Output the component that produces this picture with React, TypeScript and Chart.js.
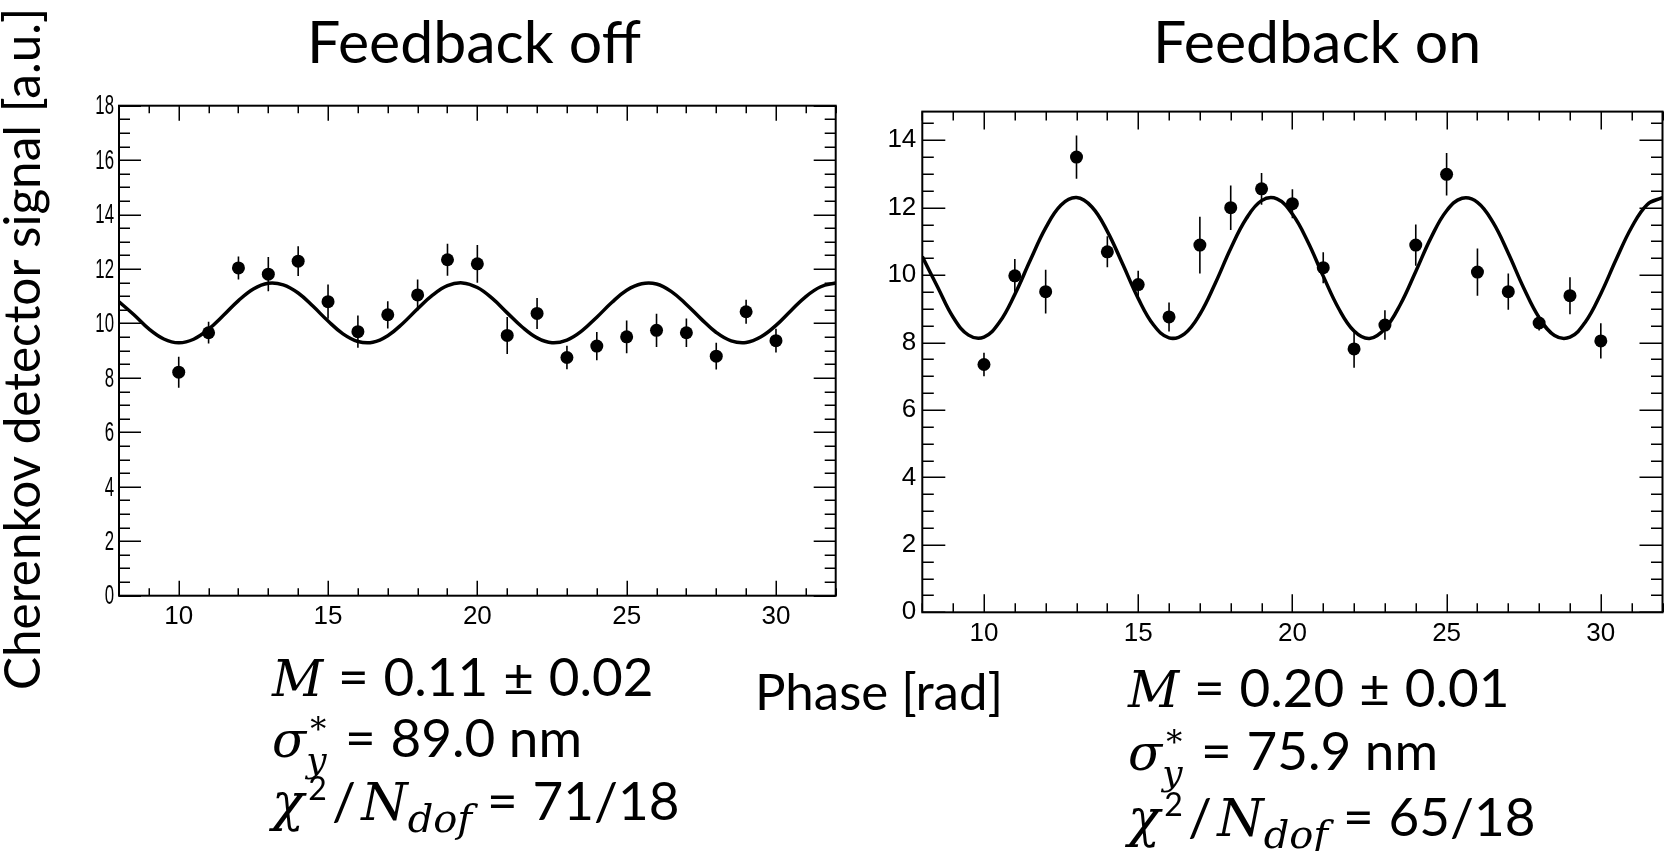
import React, { useEffect, useRef } from "react";
import { Chart, registerables } from "chart.js";

Chart.register(...registerables);

// ---------- data ----------
const phases = [10, 11, 12, 13, 14, 15, 16, 17, 18, 19, 20, 21, 22, 23, 24, 25, 26, 27, 28, 29, 30];

const offSignal = [8.21, 9.66, 12.04, 11.81, 12.29, 10.8, 9.7, 10.32, 11.05, 12.34, 12.19, 9.56, 10.37, 8.75, 9.17, 9.51, 9.75, 9.66, 8.8, 10.43, 9.37];
const offError = [0.57, 0.4, 0.42, 0.63, 0.55, 0.63, 0.59, 0.5, 0.57, 0.59, 0.69, 0.68, 0.57, 0.43, 0.52, 0.6, 0.61, 0.52, 0.49, 0.44, 0.44];

const onSignal = [7.35, 9.98, 9.51, 13.5, 10.69, 9.72, 8.76, 10.89, 12.0, 12.56, 12.12, 10.22, 7.81, 8.52, 10.89, 12.99, 10.09, 9.51, 8.58, 9.39, 8.05];
const onError = [0.35, 0.5, 0.65, 0.64, 0.46, 0.41, 0.43, 0.84, 0.66, 0.47, 0.43, 0.46, 0.56, 0.44, 0.61, 0.63, 0.7, 0.54, 0.22, 0.55, 0.52];

// fit curves
const fitPhase = [8, 8.5, 9, 9.5, 10, 10.5, 11, 11.5, 12, 12.5, 13, 13.5, 14, 14.5, 15, 15.5, 16, 16.5, 17, 17.5, 18, 18.5, 19, 19.5, 20, 20.5, 21, 21.5, 22, 22.5, 23, 23.5, 24, 24.5, 25, 25.5, 26, 26.5, 27, 27.5, 28, 28.5, 29, 29.5, 30, 30.5, 31, 31.5, 32];
const offFit = [10.8, 10.32, 9.8, 9.43, 9.29, 9.42, 9.79, 10.3, 10.84, 11.27, 11.48, 11.42, 11.12, 10.63, 10.09, 9.62, 9.34, 9.31, 9.55, 10.0, 10.54, 11.04, 11.39, 11.49, 11.32, 10.92, 10.39, 9.87, 9.47, 9.29, 9.39, 9.73, 10.23, 10.77, 11.22, 11.46, 11.45, 11.17, 10.7, 10.16, 9.67, 9.36, 9.3, 9.51, 9.93, 10.47, 10.99, 11.35, 11.49];
const onFit = [10.55, 9.64, 8.75, 8.22, 8.16, 8.6, 9.43, 10.44, 11.4, 12.08, 12.3, 12.02, 11.3, 10.32, 9.31, 8.52, 8.14, 8.26, 8.84, 9.76, 10.79, 11.67, 12.21, 12.26, 11.81, 10.99, 9.97, 9.01, 8.34, 8.12, 8.41, 9.13, 10.11, 11.12, 11.91, 12.28, 12.16, 11.57, 10.65, 9.62, 8.74, 8.21, 8.16, 8.61, 9.45, 10.47, 11.42, 12.09, 12.3];

// axes / ticks
const xTickLabels = [10, 15, 20, 25, 30];
const offYTickLabels = [0, 2, 4, 6, 8, 10, 12, 14, 16, 18];
const onYTickLabels = [0, 2, 4, 6, 8, 10, 12, 14];
const xRange = [8, 32];
const offYRange = [0, 18];
const onYRange = [0, 14.85];

const tickFamily = "'Liberation Sans', Arial, sans-serif";

// ---------- plugins ----------
const rootFramePlugin = {
  id: "rootFrame",
  afterDatasetsDraw(chart: any, _args: any, opts: any) {
    const { ctx, chartArea: a, scales } = chart;
    const x = scales.x;
    const y = scales.y;
    ctx.save();
    ctx.strokeStyle = "#000";
    ctx.lineWidth = 1.5;
    ctx.beginPath();
    for (let v = xRange[0]; v <= xRange[1] + 1e-9; v += 1) {
      const px = Math.round(x.getPixelForValue(v)) + 0.25;
      const len = v % 5 === 0 ? opts.xMajor : opts.xMinor;
      ctx.moveTo(px, a.bottom);
      ctx.lineTo(px, a.bottom - len);
      ctx.moveTo(px, a.top);
      ctx.lineTo(px, a.top + len);
    }
    for (let v = 0; v <= y.max + 1e-9; v += 0.5) {
      const py = Math.round(y.getPixelForValue(v)) + 0.25;
      const len = v % 2 === 0 ? opts.yMajor : opts.yMinor;
      ctx.moveTo(a.left, py);
      ctx.lineTo(a.left + len, py);
      ctx.moveTo(a.right, py);
      ctx.lineTo(a.right - len, py);
    }
    ctx.stroke();
    ctx.lineWidth = 2;
    ctx.strokeRect(a.left, a.top, a.right - a.left, a.bottom - a.top);

    // condensed y tick labels (left panel)
    if (opts.condensedLabels) {
      ctx.fillStyle = "#000";
      ctx.font = `${opts.labelSize}px ${tickFamily}`;
      ctx.textAlign = "right";
      ctx.textBaseline = "middle";
      for (const v of opts.condensedLabels as number[]) {
        ctx.save();
        ctx.translate(a.left - opts.labelGap, y.getPixelForValue(v) + 1);
        ctx.scale(opts.labelScaleX, 1);
        ctx.fillText(String(v), 0, 0);
        ctx.restore();
      }
    }
    ctx.restore();
  },
};

const errorBarPlugin = {
  id: "errorBars",
  beforeDatasetsDraw(chart: any, _args: any, opts: any) {
    const { ctx, scales } = chart;
    const x = scales.x;
    const y = scales.y;
    const vals: number[] = opts.values;
    const errs: number[] = opts.errors;
    const xs: number[] = opts.xs;
    ctx.save();
    ctx.strokeStyle = "#000";
    ctx.lineWidth = 1.6;
    ctx.beginPath();
    for (let i = 0; i < vals.length; i++) {
      const px = x.getPixelForValue(xs[i]);
      ctx.moveTo(px, y.getPixelForValue(vals[i] - errs[i]));
      ctx.lineTo(px, y.getPixelForValue(vals[i] + errs[i]));
    }
    ctx.stroke();
    ctx.restore();
  },
};

type PanelCfg = {
  values: number[];
  errors: number[];
  fit: number[];
  yTicks: number[];
  yRange: number[];
  yAxisWidth: number;
  xAxisHeight: number;
  padTop: number;
  padRight: number;
  xPad: number;
  yPad: number;
  condensed: boolean;
  xMajor: number;
  xMinor: number;
  yMajor: number;
  yMinor: number;
};

function Panel(props: { left: number; top: number; width: number; height: number; cfg: PanelCfg }) {
  const ref = useRef<HTMLCanvasElement>(null);
  const { cfg } = props;
  useEffect(() => {
    if (!ref.current) return;
    const chart = new Chart(ref.current, {
      type: "scatter",
      data: {
        datasets: [
          {
            type: "line",
            data: fitPhase.map((p, i) => ({ x: p, y: cfg.fit[i] })),
            borderColor: "#000",
            borderWidth: 3.5,
            pointRadius: 0,
            tension: 0.4,
            fill: false,
          } as any,
          {
            type: "scatter",
            data: phases.map((p, i) => ({ x: p, y: cfg.values[i] })),
            pointRadius: 6.5,
            pointBackgroundColor: "#000",
            pointBorderColor: "#000",
            pointBorderWidth: 0,
            showLine: false,
          } as any,
        ],
      },
      options: {
        responsive: false,
        animation: false,
        devicePixelRatio: 1,
        layout: { padding: { top: cfg.padTop, right: cfg.padRight, left: 0, bottom: 0 } },
        plugins: {
          legend: { display: false },
          tooltip: { enabled: false },
          rootFrame: {
            xMajor: cfg.xMajor,
            xMinor: cfg.xMinor,
            yMajor: cfg.yMajor,
            yMinor: cfg.yMinor,
            condensedLabels: cfg.condensed ? cfg.yTicks : null,
            labelSize: 28,
            labelScaleX: 0.6,
            labelGap: 5,
          },
          errorBars: { values: cfg.values, errors: cfg.errors, xs: phases },
        } as any,
        scales: {
          x: {
            type: "linear",
            min: xRange[0],
            max: xRange[1],
            grid: { display: false, drawTicks: false },
            border: { display: false },
            afterBuildTicks: (s: any) => {
              s.ticks = xTickLabels.map((v) => ({ value: v }));
            },
            afterFit: (s: any) => {
              s.height = cfg.xAxisHeight;
            },
            ticks: { font: { family: tickFamily, size: 26 }, color: "#000", padding: cfg.xPad, maxRotation: 0, autoSkip: false },
          },
          y: {
            type: "linear",
            min: cfg.yRange[0],
            max: cfg.yRange[1],
            grid: { display: false, drawTicks: false },
            border: { display: false },
            afterBuildTicks: (s: any) => {
              s.ticks = cfg.yTicks.map((v) => ({ value: v }));
            },
            afterFit: (s: any) => {
              s.width = cfg.yAxisWidth;
            },
            ticks: {
              display: !cfg.condensed,
              font: { family: tickFamily, size: 26 },
              color: "#000",
              padding: cfg.yPad,
              autoSkip: false,
            },
          },
        },
      } as any,
      plugins: [rootFramePlugin as any, errorBarPlugin as any],
    });
    return () => chart.destroy();
  }, []);
  return (
    <canvas
      ref={ref}
      width={props.width}
      height={props.height}
      style={{ position: "absolute", left: props.left, top: props.top, width: props.width, height: props.height }}
    />
  );
}

const offCfg: PanelCfg = {
  values: offSignal,
  errors: offError,
  fit: offFit,
  yTicks: offYTickLabels,
  yRange: offYRange,
  yAxisWidth: 59,
  xAxisHeight: 54.3,
  padTop: 15.7,
  padRight: 14.3,
  xPad: 6,
  yPad: 5,
  condensed: true,
  xMajor: 15,
  xMinor: 7.5,
  yMajor: 22,
  yMinor: 11,
};

const onCfg: PanelCfg = {
  values: onSignal,
  errors: onError,
  fit: onFit,
  yTicks: onYTickLabels,
  yRange: onYRange,
  yAxisWidth: 62.3,
  xAxisHeight: 47.7,
  padTop: 13.3,
  padRight: 2.3,
  xPad: 6,
  yPad: 6,
  condensed: false,
  xMajor: 18,
  xMinor: 9,
  yMajor: 23,
  yMinor: 11.5,
};

const sans = "Lato, 'Open Sans', sans-serif";
const serif = "'DejaVu Serif', serif";

function Centered(props: { x: number; y: number; size: number; rotate?: boolean; children: any }) {
  return (
    <div
      style={{
        position: "absolute",
        left: props.x,
        top: props.y,
        transform: `translate(-50%, -50%)${props.rotate ? " rotate(-90deg)" : ""}`,
        fontFamily: sans,
        fontSize: props.size,
        lineHeight: 1,
        whiteSpace: "nowrap",
        color: "#000",
      }}
    >
      {props.children}
    </div>
  );
}

function MathLine(props: { x: number; y: number; children: any }) {
  return (
    <div
      style={{
        position: "absolute",
        left: props.x,
        top: props.y - 30,
        height: 60,
        lineHeight: "60px",
        fontFamily: sans,
        fontSize: 53,
        whiteSpace: "nowrap",
        color: "#000",
      }}
    >
      {props.children}
    </div>
  );
}

function V(props: { c: string; size?: number }) {
  return <span style={{ fontFamily: serif, fontStyle: "italic", fontSize: props.size || 50 }}>{props.c}</span>;
}

function Op(props: { c: string }) {
  return <span style={{ margin: "0 0.28em" }}>{props.c}</span>;
}

function Sigma() {
  return (
    <>
      <V c="σ" />
      <span style={{ display: "inline-block", position: "relative", width: 24, height: 0 }}>
        <span style={{ position: "absolute", left: 4, top: -44, fontSize: 32, lineHeight: "32px", fontFamily: serif }}>*</span>
        <span style={{ position: "absolute", left: 0, top: -15, fontSize: 36, lineHeight: "36px", fontFamily: serif, fontStyle: "italic" }}>y</span>
      </span>
    </>
  );
}

function Chi() {
  return (
    <>
      <V c="χ" size={53} />
      <span style={{ position: "relative", top: -20, fontSize: 32, marginLeft: 4 }}>2</span>
      <span style={{ margin: "0 0.1em" }}>/</span>
      <V c="N" size={53} />
      <span style={{ position: "relative", top: 12, fontSize: 40, fontFamily: serif, fontStyle: "italic" }}>dof</span>
    </>
  );
}

export default function App() {
  return (
    <div
      style={{
        position: "fixed",
        left: 0,
        top: 0,
        width: 1669,
        height: 851,
        overflow: "hidden",
        background: "#fff",
      }}
    >
      <Panel left={60} top={90} width={790} height={560} cfg={offCfg} />
      <Panel left={860} top={90} width={809} height={570} cfg={onCfg} />

      <Centered x={474} y={40} size={59}>Feedback off</Centered>
      <Centered x={1317} y={40} size={59}>Feedback on</Centered>
      <Centered x={22} y={349} size={49.5} rotate>Cherenkov detector signal [a.u.]</Centered>
      <Centered x={879} y={690} size={51}>Phase [rad]</Centered>

      <MathLine x={272} y={676}><V c="M" /><Op c="=" />0.11<Op c="±" />0.02</MathLine>
      <MathLine x={272} y={737}><Sigma /><Op c="=" />89.0 nm</MathLine>
      <MathLine x={272} y={800}><Chi /><Op c="=" />71/18</MathLine>

      <MathLine x={1128} y={687}><V c="M" /><Op c="=" />0.20<Op c="±" />0.01</MathLine>
      <MathLine x={1128} y={750}><Sigma /><Op c="=" />75.9 nm</MathLine>
      <MathLine x={1128} y={816}><Chi /><Op c="=" />65/18</MathLine>
    </div>
  );
}
